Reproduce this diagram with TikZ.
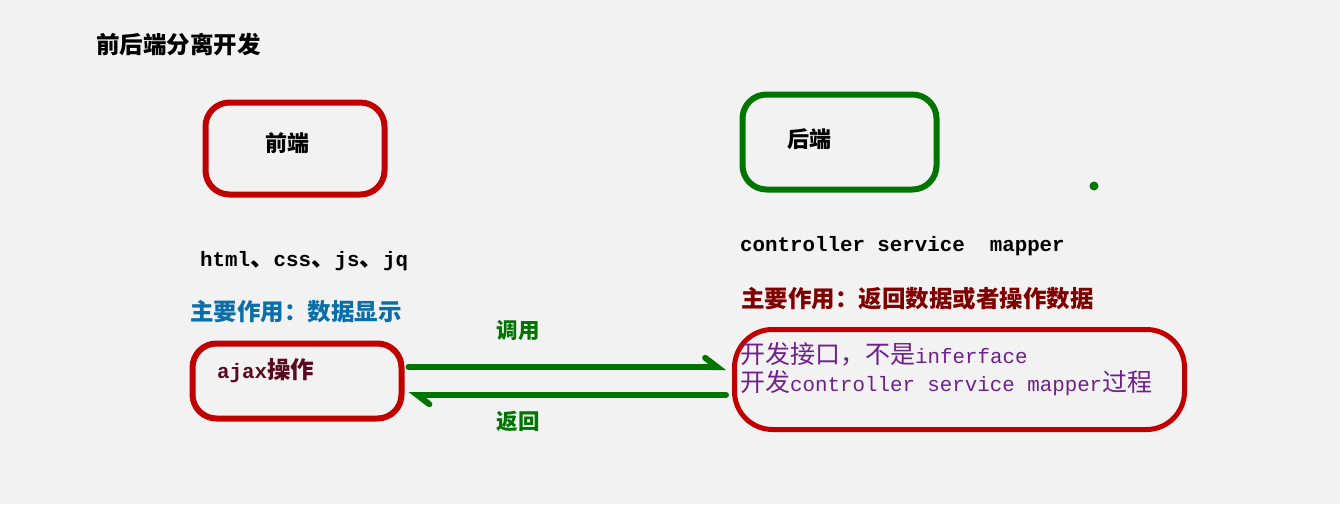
\documentclass[tikz,border=0pt]{standalone}
\usepackage{fontspec}
\usepackage{tikz}
\usetikzlibrary{arrows.meta}

\newfontfamily\zhfont{Noto Sans CJK SC}
\newfontfamily\codefont{Liberation Mono}
\newcommand{\zh}[1]{{\zhfont\bfseries #1}}
\newcommand{\code}[1]{{\codefont\bfseries\fontsize{20.8}{24}\selectfont #1}}

\definecolor{bgcol}{RGB}{242,242,242}
\definecolor{boxred}{RGB}{192,0,0}
\definecolor{boxgreen}{RGB}{0,118,0}
\definecolor{infoblue}{RGB}{10,110,168}
\definecolor{infomaroon}{RGB}{128,0,0}
\definecolor{ajaxcol}{RGB}{90,10,30}
\definecolor{devpurple}{RGB}{112,32,140}

\begin{document}
\begin{tikzpicture}[x=1pt,y=-1pt,
        box/.style={draw,line width=6pt,rounded corners=24pt,inner sep=0pt},
        txt/.style={anchor=west,inner sep=0pt,font=\fontsize{23.5}{27}\selectfont},
        flow/.style={draw=boxgreen,line width=6pt,line cap=round,
            -{Straight Barb[harpoon,length=12pt,angle'=75,line width=6pt,line cap=round]}}]

    \fill[bgcol] (0,0) rectangle (1340,504);

    % title
    \node[txt] (title) at (96,44) {\zh{前后端分离开发}};

    % front end
    \node[box,draw=boxred,minimum width=179pt,minimum height=92pt] (fe) at (295,148.5) {};
    \node[txt,font=\fontsize{22}{26}\selectfont] (felabel) at (265,143) {\zh{前端}};
    \node[txt] (fetech) at (200,261) {\code{html}\zh{、}\code{css}\zh{、}\code{js}\zh{、}\code{jq}};
    \node[txt,text=infoblue] (fejob) at (190,312) {\zh{主要作用：数据显示}};
    \node[box,draw=boxred,minimum width=209pt,minimum height=75pt] (ajax) at (297,381) {};
    \node[txt,text=ajaxcol] (ajaxlabel) at (217,371) {\code{ajax}\zh{操作}};

    % back end
    \node[box,draw=boxgreen,minimum width=194pt,minimum height=95pt] (be) at (839.5,142) {};
    \node[txt,font=\fontsize{22}{26}\selectfont] (belabel) at (787,139) {\zh{后端}};
    \node[circle,fill=boxgreen,minimum size=9pt,inner sep=0pt] (dot) at (1094,186) {};
    \node[txt] (betech) at (740,246) {\code{controller service\ \ mapper}};
    \node[txt,text=infomaroon] (bejob) at (741,299) {\zh{主要作用：返回数据或者操作数据}};
    \node[box,draw=boxred,line width=5pt,rounded corners=38pt,
        minimum width=450pt,minimum height=100pt] (dev) at (959.5,379.5) {};
    \node[txt,text=devpurple,font=\fontsize{25}{28}\selectfont] (devone) at (740,354)
        {{\zhfont 开发接口，不是}{\codefont\fontsize{20.8}{24}\selectfont inferface}};
    \node[txt,text=devpurple,font=\fontsize{25}{28}\selectfont] (devtwo) at (740,383)
        {{\zhfont 开发}{\codefont\fontsize{20.8}{24}\selectfont controller service mapper}{\zhfont 过程}};

    % calls
    \draw[flow,shorten <=4pt,shorten >=6pt] ([yshift=14pt]ajax.east) -- ([yshift=14pt]ajax.east -| dev.west);
    \draw[flow,shorten <=6pt,shorten >=4pt] ([yshift=-14pt]ajax.east -| dev.west) -- ([yshift=-14pt]ajax.east);
    \node[text=boxgreen,font=\fontsize{21.5}{25}\selectfont] (call) at (518,330) {\zh{调用}};
    \node[text=boxgreen,font=\fontsize{21.5}{25}\selectfont] (back) at (518,421) {\zh{返回}};
\end{tikzpicture}
\end{document}
